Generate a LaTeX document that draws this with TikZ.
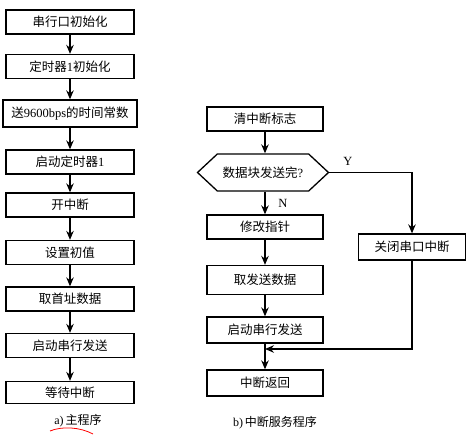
\documentclass[tikz,border=0pt]{standalone}
\usepackage{fontspec}
\setmainfont{Liberation Serif}
\newfontfamily\cjk{Noto Sans CJK SC}
\usepackage{tikz}
\usetikzlibrary{arrows.meta,shapes.symbols}
\tikzset{
  procbox/.style={
    rectangle,
    draw=black,
    line width=1.3pt,
    fill=white,
    minimum width=128pt,
    minimum height=24pt,
    inner sep=0pt,
    font=\cjk\fontsize{12.5}{14}\selectfont
  },
  testbox/.style={
    signal,
    signal to=west and east,
    signal pointer angle=86,
    draw=black,
    line width=1.3pt,
    fill=white,
    minimum width=131pt,
    minimum height=37pt,
    inner sep=0pt,
    font=\cjk\fontsize{12.5}{14}\selectfont
  },
  flow/.style={
    line width=1.3pt,
    -{Stealth[length=9pt,width=7.5pt,inset=3pt]}
  },
  branch/.style={
    font=\fontsize{12.5}{14}\selectfont
  },
  caption/.style={
    font=\cjk\fontsize{12}{14}\selectfont
  }
}

\begin{document}
\begin{tikzpicture}[x=1pt,y=-1pt]
  % same page size as the original scan
  \useasboundingbox (0,0) rectangle (474,435);

  % a) main program
  \node[procbox] (m-init)  at (70,22)    {串行口初始化};
  \node[procbox] (m-timer) at (70,66.5)  {定时器{\rmfamily 1}初始化};
  \node[procbox, minimum width=134pt, minimum height=27pt] (m-const) at (70,113.5) {送{\rmfamily 9600bps}的时间常数};
  \node[procbox] (m-start) at (70,162)   {启动定时器{\rmfamily 1}};
  \node[procbox] (m-int)   at (70,205)   {开中断};
  \node[procbox] (m-val)   at (70,252.5) {设置初值};
  \node[procbox] (m-addr)  at (70,299)   {取首址数据};
  \node[procbox] (m-send)  at (70,345.5) {启动串行发送};
  \node[procbox, minimum height=22pt] (m-wait) at (70,392.5) {等待中断};

  \draw[flow] (m-init) -- (m-timer);
  \draw[flow] (m-timer) -- (m-const);
  \draw[flow] (m-const) -- (m-start);
  \draw[flow] (m-start) -- (m-int);
  \draw[flow] (m-int) -- (m-val);
  \draw[flow] (m-val) -- (m-addr);
  \draw[flow] (m-addr) -- (m-send);
  \draw[flow] (m-send) -- (m-wait);

  \node[caption] (cap-a) at (78,421) {{\rmfamily a)}\,主程序};
  \draw[red, line width=0.8pt] (50,431) .. controls (62,426) and (80,427) .. (93,434);

  % b) interrupt service routine
  \node[procbox, minimum width=116pt] (s-clear) at (265,119) {清中断标志};
  \node[testbox] (s-done) at (263,172.5) {数据块发送完{\rmfamily ?}};
  \node[procbox, minimum width=116pt] (s-ptr)   at (265,227) {修改指针};
  \node[procbox, minimum width=116pt, minimum height=29pt] (s-data) at (265,280) {取发送数据};
  \node[procbox, minimum width=116pt, minimum height=26pt] (s-send) at (265,330) {启动串行发送};
  \node[procbox, minimum width=116pt, minimum height=26pt] (s-ret)  at (265,383) {中断返回};
  \node[procbox, minimum width=107pt, minimum height=26pt] (s-close) at (412,247) {关闭串口中断};
  \coordinate (s-join) at (265,349);

  \draw[flow] (s-clear) -- (s-clear.south |- s-done.north);
  \draw[flow] (s-clear.south |- s-done.south) -- (s-ptr);
  \draw[flow] (s-done.east) -| (s-close.north);
  \draw[flow] (s-ptr) -- (s-data);
  \draw[flow] (s-data) -- (s-send);
  \draw[flow] (s-send) -- (s-ret);
  \draw[flow] (s-close.south) |- (s-join);

  \node[branch] (lbl-y) at (348,161) {Y};
  \node[branch] (lbl-n) at (283,203) {N};

  \node[caption] (cap-b) at (275,423) {{\rmfamily b)}\,中断服务程序};
\end{tikzpicture}
\end{document}
